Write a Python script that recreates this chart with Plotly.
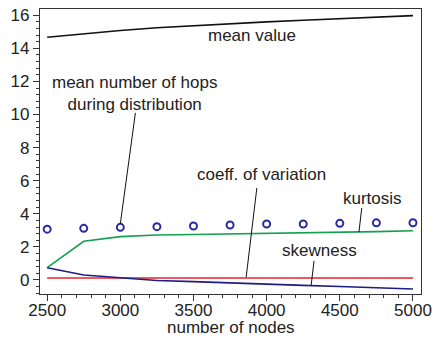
import plotly.graph_objects as go

# number of nodes in the simulated network
nodes = [2500, 2750, 3000, 3250, 3500, 3750, 4000, 4250, 4500, 4750, 5000]

# statistics of the distribution, per network size
mean_value = [14.67, 14.88, 15.08, 15.25, 15.38, 15.5, 15.6, 15.7, 15.8, 15.9, 15.98]
mean_hops = [3.07, 3.12, 3.18, 3.22, 3.26, 3.32, 3.38, 3.38, 3.42, 3.45, 3.46]
kurtosis = [0.74, 2.34, 2.62, 2.72, 2.75, 2.78, 2.8, 2.84, 2.88, 2.92, 2.97]
skewness = [0.74, 0.30, 0.13, -0.03, -0.1, -0.19, -0.26, -0.33, -0.4, -0.47, -0.55]
coeff_variation = [0.12, 0.12, 0.12, 0.12, 0.12, 0.12, 0.12, 0.12, 0.12, 0.12, 0.12]

FONT = "Liberation Sans, Arial, sans-serif"
TXT = "#222222"
AX = "#333333"

fig = go.Figure()
fig.add_trace(go.Scatter(x=nodes, y=mean_value, mode="lines",
                         line=dict(color="#111111", width=1.6)))
fig.add_trace(go.Scatter(x=nodes, y=kurtosis, mode="lines",
                         line=dict(color="#13a050", width=1.6)))
fig.add_trace(go.Scatter(x=nodes, y=coeff_variation, mode="lines",
                         line=dict(color="#e8202a", width=1.6)))
fig.add_trace(go.Scatter(x=nodes, y=skewness, mode="lines",
                         line=dict(color="#1c1c86", width=1.6)))
fig.add_trace(go.Scatter(x=nodes, y=mean_hops, mode="markers",
                         marker=dict(symbol="circle-open", size=7,
                                     color="#2a2aa0", line=dict(width=2))))

# leader lines from labels to the curves
leaders = [
    (3103, 10.1, nodes[2], mean_hops[2] + 0.22),
    (3933, 5.56, 3860, coeff_variation[0] + 0.05),
    (4650, 4.35, 4631, 2.9),
    (4324, 1.15, 4304, -0.34),
]
for x0, y0, x1, y1 in leaders:
    fig.add_shape(type="line", x0=x0, y0=y0, x1=x1, y1=y1, xref="x", yref="y",
                  line=dict(color="#111111", width=1))

labels = [
    (3901, 14.75, "mean value"),
    (3096, 11.3, "mean number of hops<br>during distribution"),
    (3963, 6.35, "coeff. of variation"),
    (4721, 4.9, "kurtosis"),
    (4359, 1.75, "skewness"),
]
for x, y, t in labels:
    fig.add_annotation(x=x, y=y, text=t, showarrow=False, xref="x", yref="y",
                       font=dict(family=FONT, size=17, color=TXT))

# x-axis title
fig.add_annotation(x=0.5, y=-0.118, xref="paper", yref="paper",
                   text="number of nodes", showarrow=False, yanchor="middle",
                   font=dict(family=FONT, size=17, color=TXT))

fig.update_layout(
    width=435, height=339,
    margin=dict(l=40, r=14, t=9, b=45),
    paper_bgcolor="white", plot_bgcolor="white",
    showlegend=False,
    font=dict(family=FONT, size=17, color=TXT),
)
fig.update_xaxes(
    range=[2451, 5055], tickvals=[2500, 3000, 3500, 4000, 4500, 5000],
    ticks="outside", ticklen=6, tickwidth=1.2, tickcolor=AX,
    minor=dict(dtick=100, tick0=2500, ticks="outside", ticklen=3, tickcolor=AX, tickwidth=1),
    showline=True, linecolor=AX, linewidth=1.3, mirror=True,
    showgrid=False, zeroline=False, automargin=False,
    tickfont=dict(size=17), ticklabelstandoff=-6,
)
fig.update_yaxes(
    range=[-0.85, 16.38], tickvals=[0, 2, 4, 6, 8, 10, 12, 14, 16],
    ticks="outside", ticklen=6, tickwidth=1.2, tickcolor=AX,
    minor=dict(dtick=0.4, tick0=0, ticks="outside", ticklen=3, tickcolor=AX, tickwidth=1),
    showline=True, linecolor=AX, linewidth=1.3, mirror=True,
    showgrid=False, zeroline=False, automargin=False,
    tickfont=dict(size=17),
)

fig.write_html("out.html")
